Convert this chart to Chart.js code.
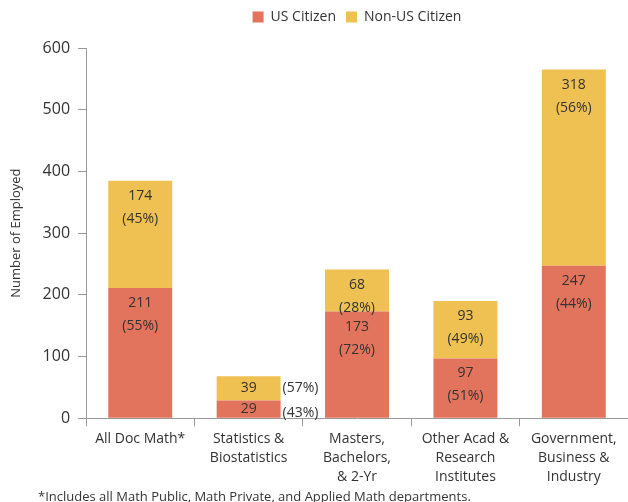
<!DOCTYPE html>
<html>
<head>
<meta charset="utf-8">
<script src="https://cdn.jsdelivr.net/npm/chart.js@4.4.1/dist/chart.umd.min.js"></script>
<style>
  html, body { margin: 0; padding: 0; background: #fff; }
  #wrap { width: 628px; height: 502px; overflow: hidden; position: relative; }
</style>
</head>
<body>
<div id="wrap"><canvas id="chart" width="628" height="516"></canvas></div>
<script>
// dati
var categories = ['All Doc Math*', ['Statistics &', 'Biostatistics'], ['Masters,', 'Bachelors,', '& 2-Yr'], ['Other Acad &', 'Research', 'Institutes'], ['Government,', 'Business &', 'Industry']];
var usCitizen = [211, 29, 173, 97, 247];
var nonUsCitizen = [174, 39, 68, 93, 318];
var usPct = [55, 43, 72, 51, 44];
var nonUsPct = [45, 57, 28, 49, 56];
var yTicks = [0, 100, 200, 300, 400, 500, 600];

var FONT = "'Open Sans', 'DejaVu Sans', sans-serif";
var TEXT = '#333333';

var labelPlugin = {
  id: 'barLabels',
  afterDatasetsDraw: function(chart) {
    var ctx = chart.ctx;
    var pcts = [usPct, nonUsPct];
    ctx.save();
    ctx.fillStyle = TEXT;
    ctx.font = '14px ' + FONT;
    ctx.textBaseline = 'middle';
    chart.data.datasets.forEach(function(ds, di) {
      var meta = chart.getDatasetMeta(di);
      meta.data.forEach(function(bar, i) {
        var top = Math.min(bar.y, bar.base);
        var bottom = Math.max(bar.y, bar.base);
        var pct = '(' + pcts[di][i] + '%)';
        if (bottom - top < 40) {
          // barra bassa: valore dentro, percentuale a destra
          var mid = (top + bottom) / 2;
          ctx.textAlign = 'center';
          ctx.fillText(ds.data[i], bar.x, mid);
          ctx.textAlign = 'left';
          ctx.fillText(pct, bar.x + bar.width / 2 + 2, di === 0 ? mid + 4 : mid);
        } else {
          ctx.textAlign = 'center';
          ctx.fillText(ds.data[i], bar.x, top + 15);
          ctx.fillText(pct, bar.x, top + 38);
        }
      });
    });
    // nota in fondo
    ctx.textAlign = 'left';
    ctx.font = '13px ' + FONT;
    ctx.fillText('*Includes all Math Public, Math Private, and Applied Math departments.', 38, 497);
    ctx.restore();
  }
};

// spazio extra sotto la legenda
var legendGap = {
  id: 'legendGap',
  beforeInit: function(chart) {
    var fit = chart.legend.fit;
    chart.legend.fit = function() {
      fit.bind(chart.legend)();
      this.height += 14;
    };
  }
};

var chart = new Chart(document.getElementById('chart').getContext('2d'), {
  type: 'bar',
  data: {
    labels: categories,
    datasets: [{
      label: 'US Citizen',
      data: usCitizen,
      backgroundColor: '#e2735c',
      borderWidth: 0
    }, {
      label: 'Non-US Citizen',
      data: nonUsCitizen,
      backgroundColor: '#efc052',
      borderWidth: 0
    }]
  },
  options: {
    responsive: false,
    animation: false,
    layout: { padding: { top: 0, right: 0, bottom: 27, left: 4 } },
    datasets: { bar: { categoryPercentage: 1, barPercentage: 0.59 } },
    plugins: {
      tooltip: { enabled: false },
      legend: {
        position: 'top',
        fullSize: false,
        labels: {
          boxWidth: 11,
          boxHeight: 11,
          padding: 10,
          color: TEXT,
          font: { family: FONT, size: 14 }
        }
      }
    },
    scales: {
      x: {
        stacked: true,
        border: { color: '#999', width: 1 },
        grid: { drawOnChartArea: false, drawTicks: true, tickLength: 8, color: '#999', offset: true },
        ticks: { color: TEXT, padding: 3, font: { family: FONT, size: 14, lineHeight: 1.35 }, maxRotation: 0, autoSkip: false }
      },
      y: {
        stacked: true,
        min: 0,
        max: 600,
        afterBuildTicks: function(axis) {
          axis.ticks = yTicks.map(function(v) { return { value: v }; });
        },
        border: { color: '#999', width: 1 },
        grid: { drawOnChartArea: false, drawTicks: true, tickLength: 8, color: '#999' },
        ticks: { color: TEXT, padding: 8, font: { family: FONT, size: 16 } },
        title: { display: true, text: 'Number of Employed', color: TEXT, font: { family: FONT, size: 13 }, padding: { bottom: 11 } }
      }
    }
  },
  plugins: [legendGap, labelPlugin]
});
</script>
</body>
</html>
